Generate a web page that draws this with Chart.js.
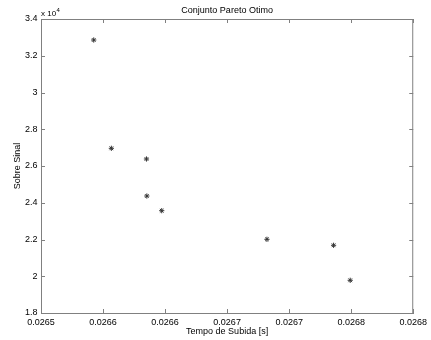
<!DOCTYPE html>
<html><head><meta charset="utf-8">
<script src="https://cdn.jsdelivr.net/npm/chart.js@4"></script>
<style>html,body{margin:0;padding:0;background:#fff}#wrap{width:431px;height:340px}</style>
</head><body><div id="wrap"><canvas id="c" width="431" height="340"></canvas></div>
<script>
const riseTime = [0.0265425, 0.0265567, 0.0265850, 0.0265853, 0.0265973, 0.0266821, 0.0267358, 0.0267492];
const overshoot = [32857, 26963, 26381, 24367, 23568, 22011, 21685, 19780];
const xTickValues = [0.0265, 0.02655, 0.0266, 0.02665, 0.0267, 0.02675, 0.0268];
const xTickLabels = ['0.0265','0.0266','0.0266','0.0267','0.0267','0.0268','0.0268'];
const yTickValues = [18000, 20000, 22000, 24000, 26000, 28000, 30000, 32000, 34000];
const yTickLabels = ['1.8','2','2.2','2.4','2.6','2.8','3','3.2','3.4'];
const titleText = 'Conjunto Pareto Otimo';
const xTitle = 'Tempo de Subida [s]';
const yTitle = 'Sobre Sinal';

const FONT = 'Liberation Sans, Arial, Helvetica, sans-serif';
const AXIS = '#808080';

const boxTicks = {
  id: 'boxTicks',
  afterDraw(chart) {
    const {ctx, chartArea: a, scales: {x, y}} = chart;
    ctx.save();
    ctx.strokeStyle = AXIS;
    ctx.lineWidth = 1;
    ctx.beginPath();
    ctx.moveTo(a.left, a.top + 0.5); ctx.lineTo(a.right, a.top + 0.5);
    ctx.moveTo(a.right - 0.5, a.top); ctx.lineTo(a.right - 0.5, a.bottom);
    const L = 4;
    x.ticks.forEach(t => {
      const px = Math.round(x.getPixelForValue(t.value)) + 0.5;
      ctx.moveTo(px, a.bottom); ctx.lineTo(px, a.bottom - L);
      ctx.moveTo(px, a.top); ctx.lineTo(px, a.top + L);
    });
    y.ticks.forEach(t => {
      const py = Math.round(y.getPixelForValue(t.value)) + 0.5;
      ctx.moveTo(a.left, py); ctx.lineTo(a.left + L, py);
      ctx.moveTo(a.right, py); ctx.lineTo(a.right - L, py);
    });
    ctx.stroke();
    ctx.fillStyle = '#000';
    ctx.textBaseline = 'alphabetic';
    ctx.textAlign = 'left';
    ctx.font = '8px ' + FONT;
    ctx.fillText('x 10', a.left, a.top - 3);
    const w = ctx.measureText('x 10').width;
    ctx.font = '6px ' + FONT;
    ctx.fillText('4', a.left + w + 0.5, a.top - 7);
    ctx.restore();
  }
};

new Chart(document.getElementById('c'), {
  type: 'scatter',
  data: {
    datasets: [{
      data: riseTime.map((v, i) => ({x: v, y: overshoot[i]})),
      pointStyle: 'star',
      radius: 2.6,
      borderColor: '#333',
      backgroundColor: '#333',
      borderWidth: 1
    }]
  },
  options: {
    responsive: false,
    devicePixelRatio: 1,
    animation: false,
    layout: {padding: {left: 0, right: 16, top: 0, bottom: 0}},
    plugins: {
      legend: {display: false},
      tooltip: {enabled: false},
      title: {
        display: true, text: titleText, fullSize: false, color: '#000',
        font: {family: FONT, size: 9, weight: 'normal', lineHeight: 1.2},
        padding: {top: 5.2, bottom: 3}
      }
    },
    scales: {
      x: {
        type: 'linear', min: 0.0265, max: 0.0268,
        afterBuildTicks: s => { s.ticks = xTickValues.map(v => ({value: v})); },
        afterFit: s => { s.height = 27; },
        grid: {display: false, drawTicks: false},
        border: {display: true, color: AXIS, width: 1},
        ticks: {
          color: '#000', padding: 4, maxRotation: 0, autoSkip: false,
          font: {family: FONT, size: 9},
          callback: (v, i) => xTickLabels[i]
        },
        title: {display: true, text: xTitle, color: '#000',
          font: {family: FONT, size: 9, lineHeight: 1.2}, padding: {top: 0, bottom: 2.6}}
      },
      y: {
        type: 'linear', min: 18000, max: 34000,
        afterBuildTicks: s => { s.ticks = yTickValues.map(v => ({value: v})); },
        afterFit: s => { s.width = 41; },
        grid: {display: false, drawTicks: false},
        border: {display: true, color: AXIS, width: 1},
        ticks: {
          color: '#000', padding: 3.5, autoSkip: false,
          font: {family: FONT, size: 9},
          callback: (v, i) => yTickLabels[i]
        },
        title: {display: true, text: yTitle, color: '#000',
          font: {family: FONT, size: 9, lineHeight: 1.2}, padding: {top: 12, bottom: 0}}
      }
    }
  },
  plugins: [boxTicks]
});
</script>
</body></html>
